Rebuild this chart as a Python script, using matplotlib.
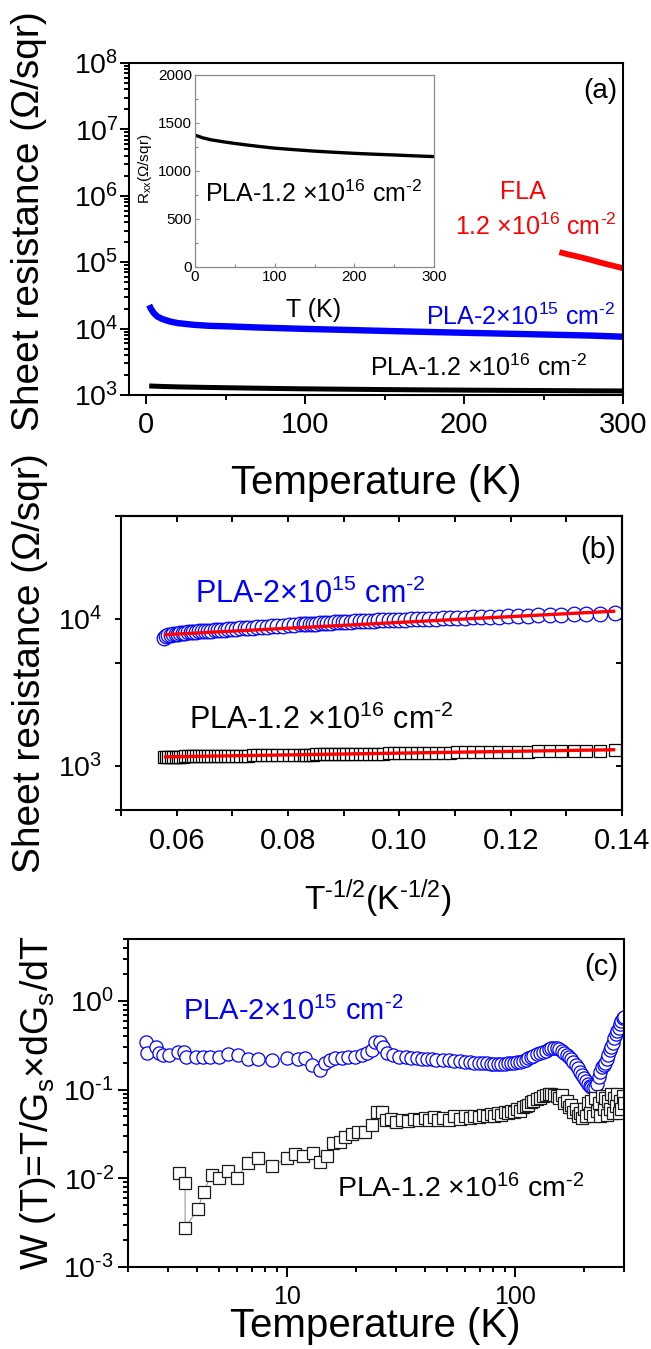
import matplotlib
matplotlib.use("Agg")
import matplotlib.pyplot as plt
from matplotlib.ticker import FixedLocator, FixedFormatter, NullFormatter

plt.rcParams["font.family"] = ["Liberation Sans", "DejaVu Sans"]
plt.rcParams["mathtext.fontset"] = "custom"
plt.rcParams["mathtext.rm"] = "Liberation Sans"
plt.rcParams["mathtext.it"] = "Liberation Sans:italic"
plt.rcParams["mathtext.bf"] = "Liberation Sans:bold"

# ---------------- data ----------------
# (a) sheet resistance vs temperature
T_pla12 = [2, 10, 20, 35, 50, 65, 80, 100, 125, 150, 175, 200, 225, 250, 275, 300]
R_pla12 = [1368, 1345, 1325, 1305, 1287, 1271, 1256, 1238, 1222, 1207, 1195, 1184,
           1175, 1167, 1158, 1150]
T_pla2 = [2, 3, 5, 7, 10, 15, 20, 30, 40, 52, 70, 100, 130, 160, 200, 240, 280, 300]
R_pla2 = [22600, 20000, 17000, 15300, 14000, 12800, 12100, 11400, 11000, 10800,
          10400, 9900, 9500, 9100, 8650, 8250, 7850, 7550]
T_fla = [260, 265, 270, 275, 280, 285, 290, 295, 300]
R_fla = [142000, 132000, 124000, 116000, 108000, 100000, 93000, 87000, 81000]

# (b) sheet resistance vs T^-1/2
x_inv = [0.0577, 0.0581, 0.0585, 0.0589, 0.0593, 0.0598, 0.0602, 0.0606, 0.0611,
         0.0615, 0.0620, 0.0625, 0.0630, 0.0635, 0.0640, 0.0645, 0.0651, 0.0657,
         0.0662, 0.0668, 0.0674, 0.0680, 0.0687, 0.0693, 0.0700, 0.0707, 0.0714,
         0.0722, 0.0729, 0.0737, 0.0745, 0.0754, 0.0762, 0.0772, 0.0781, 0.0791,
         0.0801, 0.0811, 0.0822, 0.0828, 0.0833, 0.0839, 0.0845, 0.0851, 0.0858,
         0.0864, 0.0870, 0.0877, 0.0884, 0.0891, 0.0898, 0.0905, 0.0913, 0.0921,
         0.0929, 0.0937, 0.0945, 0.0954, 0.0962, 0.0971, 0.0981, 0.0990, 0.1000,
         0.1010, 0.1021, 0.1031, 0.1043, 0.1054, 0.1066, 0.1078, 0.1091, 0.1104,
         0.1118, 0.1132, 0.1147, 0.1163, 0.1179, 0.1195, 0.1213, 0.1231, 0.1250,
         0.1270, 0.1291, 0.1313, 0.1336, 0.1361, 0.1387]
Rb_pla2 = [7450, 7600, 7700, 7780, 7840, 7890, 7930, 7970, 8010, 8040, 8070, 8100,
           8130, 8160, 8190, 8220, 8250, 8280, 8310, 8340, 8370, 8400, 8440, 8470,
           8510, 8550, 8590, 8630, 8670, 8710, 8750, 8800, 8840, 8890, 8940, 8990,
           9040, 9090, 9140, 9170, 9190, 9220, 9250, 9280, 9310, 9340, 9370, 9400,
           9430, 9460, 9490, 9520, 9550, 9580, 9610, 9640, 9670, 9700, 9730, 9760,
           9790, 9820, 9850, 9880, 9910, 9940, 9970, 10000, 10030, 10060, 10100,
           10140, 10180, 10220, 10260, 10300, 10350, 10400, 10450, 10500, 10550,
           10600, 10660, 10720, 10780, 10850, 10920]
Rb_pla12 = [1150, 1151, 1151, 1152, 1152, 1153, 1154, 1154, 1155, 1156, 1156, 1157,
            1158, 1159, 1160, 1161, 1161, 1162, 1163, 1164, 1165, 1166, 1167, 1168,
            1169, 1170, 1171, 1173, 1174, 1175, 1176, 1178, 1179, 1180, 1182, 1183,
            1185, 1186, 1188, 1189, 1190, 1191, 1192, 1193, 1194, 1195, 1196, 1197,
            1198, 1199, 1200, 1201, 1202, 1204, 1205, 1206, 1207, 1209, 1210, 1211,
            1213, 1214, 1216, 1217, 1219, 1220, 1222, 1224, 1225, 1227, 1229, 1231,
            1233, 1235, 1237, 1239, 1241, 1244, 1246, 1249, 1251, 1254, 1257, 1260,
            1263, 1266, 1270]
# linear fits of log R vs T^-1/2 (end points)
fit_x = [0.058, 0.1385]
fit_pla2 = [7800, 11250]
fit_pla12 = [1150, 1285]

# (c) reduced activation energy W(T)
Tc_pla2 = [2.40, 2.43, 2.66, 2.73, 2.85, 3.02, 3.30, 3.51, 3.59, 3.97, 4.25, 4.6,
           5.0, 5.47, 6.05, 6.69, 7.47, 8.6, 10.0, 11.1, 12.0, 12.85, 13.9, 14.6,
           15.4, 16.2, 17.4, 18.5, 19.8, 21.3, 22.3, 23.5, 24.2, 25.5, 26.2, 27.3,
           29, 31, 33, 35, 37, 39, 41, 43, 45, 48, 51, 54, 57, 60, 63, 66, 69, 72,
           75, 78, 81, 84, 87, 90, 93, 96, 99, 102, 105, 108, 111, 114, 117, 120,
           124, 128, 132, 136, 140, 144, 148, 152, 156, 160, 164, 168, 172, 176,
           180, 184, 188, 192, 196, 200, 204, 208, 212, 216, 220, 224, 228, 232,
           236, 240, 244, 248, 252, 256, 260, 264, 268, 272, 276, 280, 284, 288,
           292, 296, 300]
Wc_pla2 = [0.345, 0.26, 0.30, 0.26, 0.246, 0.246, 0.266, 0.266, 0.235, 0.235, 0.235,
           0.235, 0.235, 0.25, 0.246, 0.22, 0.22, 0.215, 0.228, 0.22, 0.228, 0.19,
           0.167, 0.20, 0.215, 0.228, 0.228, 0.235, 0.235, 0.246, 0.26, 0.28, 0.345,
           0.345, 0.30, 0.26,
           0.245, 0.235, 0.232, 0.228, 0.226, 0.224, 0.222, 0.22, 0.218, 0.216, 0.214,
           0.212, 0.208, 0.205, 0.204, 0.202, 0.20, 0.20, 0.198, 0.197, 0.196, 0.195,
           0.196, 0.197, 0.198, 0.20, 0.201, 0.203, 0.205, 0.21, 0.218, 0.226, 0.233,
           0.24, 0.25, 0.258, 0.266, 0.275, 0.285, 0.292, 0.295, 0.292, 0.285, 0.275,
           0.262, 0.248, 0.235, 0.22, 0.205, 0.19, 0.175, 0.16, 0.147, 0.135, 0.125,
           0.117, 0.11, 0.106, 0.104, 0.104, 0.115, 0.14, 0.16, 0.18, 0.19, 0.20,
           0.22, 0.245, 0.28, 0.30, 0.34, 0.38, 0.42, 0.46, 0.50, 0.55, 0.60, 0.64,
           0.66]
Tc_pla12 = [3.34, 3.56, 3.56, 4.05, 4.29, 4.66, 5.0, 5.47, 5.99, 6.69, 7.47, 8.6,
            10.0, 10.8, 11.7, 13.0, 13.9, 14.9, 15.9, 17.0, 17.9, 19.2, 20.4, 21.9,
            23.5, 24.7, 26.0, 27.2, 28.5, 30, 32, 34, 36, 38, 40, 42, 44, 46, 48, 51,
            54, 57, 60, 63, 66, 69, 72, 75, 78, 81, 84, 87, 90, 93, 96, 99, 102, 105,
            108, 111, 114, 117, 120, 124, 128, 132, 136, 140, 144, 148, 152, 156, 160,
            164, 168, 172, 176, 180, 184, 188, 192, 196, 200, 204, 208, 212, 216, 220,
            224, 228, 232, 236, 240, 244, 248, 252, 256, 260, 264, 268, 272, 276, 280,
            284, 288, 292, 296, 300]
Wc_pla12 = [0.0115, 0.0089, 0.00275, 0.0045, 0.0071, 0.011, 0.0100, 0.012, 0.0100,
            0.0149, 0.017, 0.0138, 0.017, 0.0188, 0.018, 0.0194, 0.0153, 0.018, 0.025,
            0.026, 0.0295, 0.032, 0.033, 0.033, 0.040, 0.056, 0.056, 0.045, 0.047,
            0.043, 0.046, 0.044, 0.047, 0.045, 0.048, 0.046, 0.049, 0.045, 0.048,
            0.046, 0.050, 0.047, 0.050, 0.048, 0.051, 0.049, 0.052, 0.050, 0.053,
            0.051, 0.055, 0.052, 0.056, 0.054, 0.058, 0.056, 0.060, 0.058, 0.063,
            0.066, 0.068, 0.072, 0.074, 0.078, 0.081, 0.084, 0.087, 0.089, 0.090,
            0.088, 0.085, 0.080, 0.088, 0.070, 0.075, 0.064, 0.068, 0.056, 0.060,
            0.050, 0.055, 0.048, 0.060, 0.050, 0.070, 0.055, 0.075, 0.050, 0.080,
            0.058, 0.070, 0.050, 0.085, 0.060, 0.080, 0.052, 0.075, 0.060, 0.090,
            0.055, 0.080, 0.065, 0.090, 0.055, 0.075, 0.060, 0.085, 0.070]

# tick labels
a_xticks = [0, 100, 200, 300]
a_yticks = [1e3, 1e4, 1e5, 1e6, 1e7, 1e8]
a_ylabels = ["10$^{3}$", "10$^{4}$", "10$^{5}$", "10$^{6}$", "10$^{7}$", "10$^{8}$"]
in_yticks = [0, 500, 1000, 1500, 2000]
b_xticks = [0.06, 0.08, 0.10, 0.12, 0.14]
b_xlabels = ["0.06", "0.08", "0.10", "0.12", "0.14"]
b_yticks = [1e3, 1e4]
b_ylabels = ["10$^{3}$", "10$^{4}$"]
c_xticks = [10, 100]
c_xlabels = ["10", "100"]
c_yticks = [1e-3, 1e-2, 1e-1, 1e0]
c_ylabels = ["10$^{\\text{-}3}$", "10$^{\\text{-}2}$", "10$^{\\text{-}1}$", "10$^{0}$"]

# ---------------- layout helpers (pixel based) ----------------
W, H = 651, 1349
fig = plt.figure(figsize=(W / 100, H / 100), dpi=100)


def box(l, t, r, b):
    return [l / W, 1 - b / H, (r - l) / W, (b - t) / H]


def ftext(x, y, s, **kw):
    return fig.text(x / W, 1 - y / H, s, **kw)


def style_axes(ax, lw=1.5):
    for sp in ax.spines.values():
        sp.set_linewidth(lw)


RED = "#ff0000"
BLUE = "#0000ff"
BLACK = "#000000"
lab_in = "PLA-1.2 \u00d710$^{16}$ cm$^{\\text{-}2}$"
lab_2 = "PLA-2\u00d710$^{15}$ cm$^{\\text{-}2}$"

# ---------------- panel (a) ----------------
ax1 = fig.add_axes(box(129, 63, 623, 395))
style_axes(ax1)
ax1.set_yscale("log")
ax1.plot(T_pla12, R_pla12, color=BLACK, lw=3.6, solid_capstyle="butt")
ax1.plot(T_pla2, R_pla2, color=BLUE, lw=4.6, solid_capstyle="butt")
ax1.plot(T_fla, R_fla, color=RED, lw=4.2, solid_capstyle="butt")
ax1.set_xlim(-10.7, 300)
ax1.set_ylim(1e3, 1e8)
ax1.xaxis.set_major_locator(FixedLocator(a_xticks))
ax1.xaxis.set_minor_locator(FixedLocator([50, 150, 250]))
ax1.yaxis.set_major_locator(FixedLocator(a_yticks))
ax1.yaxis.set_major_formatter(FixedFormatter(a_ylabels))
ax1.yaxis.set_minor_locator(FixedLocator(
    [m * 10 ** e for e in range(3, 8) for m in range(2, 10)]))
ax1.yaxis.set_minor_formatter(NullFormatter())
ax1.tick_params(which="both", direction="out", top=False, right=False, width=1.4)
ax1.tick_params(which="major", length=6.5)
ax1.tick_params(which="minor", length=3.5)
ax1.tick_params(axis="x", labelsize=21, pad=5)
ax1.tick_params(axis="y", labelsize=20.5, pad=1)

ftext(617, 98, "(a)", fontsize=20, ha="right", va="baseline")
ftext(523, 199, "FLA", fontsize=18, color=RED, ha="center", va="baseline")
ftext(455, 235, "1.2 \u00d710$^{16}$ cm$^{\\text{-}2}$", fontsize=18, color=RED,
      va="baseline")
ftext(426, 325, lab_2, fontsize=18, color=BLUE, va="baseline")
ftext(370, 376, lab_in, fontsize=18, color=BLACK, va="baseline")
ftext(376, 494, "Temperature (K)", fontsize=29, ha="center", va="baseline")
ftext(29, 221, "Sheet resistance (\u03a9/sqr)", fontsize=28, rotation=90,
      ha="center", va="center")

# inset
axi = fig.add_axes(box(195, 75, 434, 267))
axi.plot(T_pla12, R_pla12, color=BLACK, lw=2.4)
axi.set_xlim(0, 300)
axi.set_ylim(0, 2000)
axi.xaxis.set_major_locator(FixedLocator(a_xticks))
axi.xaxis.set_minor_locator(FixedLocator([50, 150, 250]))
axi.yaxis.set_major_locator(FixedLocator(in_yticks))
axi.yaxis.set_minor_locator(FixedLocator([250, 750, 1250, 1750]))
for sp in axi.spines.values():
    sp.set_linewidth(0.9)
    sp.set_color("#8a8a8a")
axi.tick_params(which="both", direction="in", color="#8a8a8a", width=0.8,
                labelsize=11, pad=2)
axi.tick_params(which="major", length=3)
axi.tick_params(which="minor", length=2)
ftext(314, 317, "T (K)", fontsize=18, ha="center", va="baseline")
ftext(145, 169, "R$_\\mathrm{xx}$(\u03a9/sqr)", fontsize=11, rotation=90,
      ha="center", va="center")
ftext(205, 202, lab_in, fontsize=18, va="baseline")

# ---------------- panel (b) ----------------
ax2 = fig.add_axes(box(121, 516, 622, 810))
style_axes(ax2)
ax2.set_yscale("log")
ax2.plot(x_inv, Rb_pla2, ls="none", marker="o", ms=10.5, mfc="white", mec=BLUE,
         mew=0.9, zorder=2)
ax2.plot(x_inv, Rb_pla12, ls="none", marker="s", ms=9, mfc="white", mec=BLACK,
         mew=0.9, zorder=2)
ax2.plot(fit_x, fit_pla2, color=RED, lw=2.4, zorder=3)
ax2.plot(fit_x, fit_pla12, color=RED, lw=2.4, zorder=3)
ax2.set_xlim(0.05, 0.14)
ax2.set_ylim(500, 5e4)
b_xminor = [0.05, 0.07, 0.09, 0.11, 0.13]
b_yminor = [500, 5e3, 5e4]
ax2.xaxis.set_major_locator(FixedLocator(b_xticks))
ax2.xaxis.set_major_formatter(FixedFormatter(b_xlabels))
ax2.xaxis.set_minor_locator(FixedLocator(b_xminor))
ax2.yaxis.set_major_locator(FixedLocator(b_yticks))
ax2.yaxis.set_major_formatter(FixedFormatter(b_ylabels))
ax2.yaxis.set_minor_locator(FixedLocator(b_yminor))
ax2.yaxis.set_minor_formatter(NullFormatter())
ax2.tick_params(which="both", direction="out", length=4.5, width=1.4)
ax2.tick_params(axis="x", labelsize=21, pad=8)
ax2.tick_params(axis="y", labelsize=20.5, pad=9)
top2 = ax2.secondary_xaxis("top")
top2.xaxis.set_major_locator(FixedLocator(b_xticks + b_xminor))
top2.tick_params(direction="in", length=4.5, width=1.4, labeltop=False)
top2.spines["top"].set_linewidth(1.5)
right2 = ax2.secondary_yaxis("right")
right2.yaxis.set_major_locator(FixedLocator(b_yticks + b_yminor))
right2.yaxis.set_minor_locator(FixedLocator([]))
right2.tick_params(direction="in", length=4.5, width=1.4, labelright=False)
right2.spines["right"].set_linewidth(1.5)

ftext(616, 558, "(b)", fontsize=21, ha="right", va="baseline")
ftext(195, 603, lab_2, fontsize=22, color=BLUE, va="baseline")
ftext(189, 729, lab_in, fontsize=22, color=BLACK, va="baseline")
ftext(378, 910, "T$^{\\text{-}1/2}$(K$^{\\text{-}1/2}$)", fontsize=24, ha="center",
      va="baseline")
ftext(30, 663, "Sheet resistance (\u03a9/sqr)", fontsize=28, rotation=90,
      ha="center", va="center")

# ---------------- panel (c) ----------------
ax3 = fig.add_axes(box(128, 939, 624, 1267))
style_axes(ax3)
ax3.set_xscale("log")
ax3.set_yscale("log")
ax3.plot(Tc_pla2, Wc_pla2, color=BLUE, lw=0.5, marker="o", ms=9.5, mfc="white",
         mec=BLUE, mew=0.9, zorder=2)
ax3.plot(Tc_pla12, Wc_pla12, color="#8c8c8c", lw=0.7, marker="s", ms=9, mfc="white",
         mec="#1a1a1a", mew=0.9, zorder=2)
ax3.set_xlim(2, 300)
ax3.set_ylim(1e-3, 5)
ax3.xaxis.set_major_locator(FixedLocator(c_xticks))
ax3.xaxis.set_major_formatter(FixedFormatter(c_xlabels))
ax3.xaxis.set_minor_locator(FixedLocator(
    [m * 10 ** e for e in range(0, 3) for m in range(2, 10)]))
ax3.xaxis.set_minor_formatter(NullFormatter())
ax3.yaxis.set_major_locator(FixedLocator(c_yticks))
ax3.yaxis.set_major_formatter(FixedFormatter(c_ylabels))
ax3.yaxis.set_minor_locator(FixedLocator(
    [m * 10.0 ** e for e in range(-3, 1) for m in range(2, 10)]))
ax3.yaxis.set_minor_formatter(NullFormatter())
ax3.tick_params(which="both", direction="out", top=False, right=False, width=1.4)
ax3.tick_params(which="major", length=7)
ax3.tick_params(which="minor", length=3.5)
ax3.tick_params(axis="x", labelsize=18, pad=6)
ax3.tick_params(axis="y", labelsize=20.5, pad=3)

ftext(618, 975, "(c)", fontsize=21, ha="right", va="baseline")
ftext(183, 1020, lab_2, fontsize=21, color=BLUE, va="baseline")
ftext(337, 1197, lab_in, fontsize=20.5, color=BLACK, va="baseline")
ftext(375, 1337, "Temperature (K)", fontsize=29, ha="center", va="baseline")
ftext(38, 1103, "W (T)=T/G$_\\mathrm{s}$\u00d7dG$_\\mathrm{s}$/dT", fontsize=27,
      rotation=90, ha="center", va="center")

fig.savefig("out.png", dpi=100, facecolor="white")
